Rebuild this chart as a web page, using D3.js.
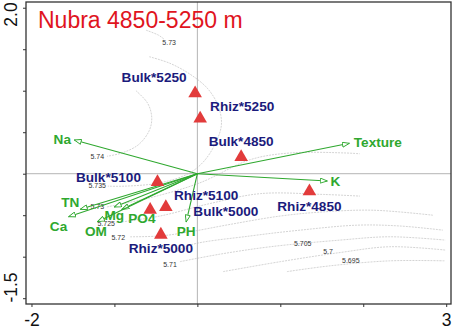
<!DOCTYPE html>
<html>
<head>
<meta charset="utf-8">
<script src="https://cdn.jsdelivr.net/npm/d3@7"></script>
<style>
  body { margin: 0; background: #fff; }
  text { font-family: "Liberation Sans", Arial, sans-serif; }
</style>
</head>
<body>
<div id="chart"></div>
<script>
// sample scores (site points)
var sampleNames = ["Bulk*5250", "Rhiz*5250", "Bulk*4850", "Rhiz*4850", "Bulk*5100", "Rhiz*5100", "Bulk*5000", "Rhiz*5000"];
var sampleX = [-0.027, 0.034, 0.528, 1.351, -0.481, -0.569, -0.380, -0.440];
var sampleY = [0.993, 0.687, 0.225, -0.188, -0.076, -0.410, -0.377, -0.711];

// environmental vectors
var varNames = ["Na", "Texture", "K", "Ca", "TN", "Mg", "PO4", "OM", "PH"];
var varX = [-1.484, 1.833, 1.567, -1.553, -1.412, -1.002, -0.910, -1.204, -0.135];
var varY = [0.406, 0.366, -0.088, -0.518, -0.429, -0.401, -0.429, -0.578, -0.582];

// contour lines of the fitted surface
var contourLevels = ["5.74", "5.735", "5.73", "5.73", "5.725", "5.72", "5.715", "5.71", "5.7", "5.695"];
var contourLines = [
  [[-0.74, 1.00], [-0.60, 0.85], [-0.55, 0.68], [-0.58, 0.52], [-0.71, 0.35], [-0.91, 0.25], [-1.09, 0.21]],
  [[-0.58, 1.41], [-0.33, 1.33], [-0.09, 1.20], [0.12, 1.03], [0.25, 0.82], [0.29, 0.59], [0.21, 0.35], [0.07, 0.14], [-0.11, 0.00], [-0.45, -0.11], [-0.87, -0.15], [-1.08, -0.15]],
  [[-0.62, 1.73], [-0.47, 1.67], [-0.40, 1.62]],
  [[-1.09, -0.40], [-0.57, -0.29], [0.03, -0.11], [0.64, 0.17], [1.12, 0.25], [1.78, 0.25], [1.96, 0.24]],
  [[-0.98, -0.59], [-0.45, -0.51], [0.15, -0.36], [0.76, -0.24], [1.52, -0.25], [1.96, -0.27]],
  [[-0.81, -0.76], [-0.45, -0.75], [-0.09, -0.70], [0.40, -0.61], [1.00, -0.51], [1.52, -0.46], [2.12, -0.44], [2.84, -0.50]],
  [[-0.27, -0.95], [-0.09, -0.86], [0.64, -0.75], [1.24, -0.68], [1.93, -0.62], [2.44, -0.63], [2.96, -0.68]],
  [[-0.21, -1.06], [0.27, -0.97], [0.88, -0.88], [1.72, -0.80], [2.32, -0.76], [2.99, -0.80]],
  [[0.31, -1.18], [1.00, -1.06], [1.72, -0.95], [2.32, -0.88], [2.99, -0.92]],
  [[1.08, -1.18], [1.60, -1.11], [2.32, -1.05], [2.99, -1.05]]
];
var contourLabelText = ["5.73", "5.74", "5.735", "5.73", "5.725", "5.72", "5.71", "5.705", "5.7", "5.695"];
var contourLabelX = [-0.34, -1.207, -1.207, -1.207, -1.099, -0.954, -0.33, 1.27, 1.576, 1.85];
var contourLabelY = [1.575, 0.213, -0.148, -0.401, -0.594, -0.763, -1.09, -0.835, -0.94, -1.04];

// axis ticks
var xTicks = [-2, -1, 0, 1, 2, 3];
var yTicks = [-1.5, -1, -0.5, 0, 0.5, 1, 1.5, 2];
var xTickLabels = ["-2", "", "", "", "", "3"];
var yTickLabels = ["-1.5", "", "", "", "", "", "", "2.0"];

// label nudges in pixels (layout only)
var sampleLabelDx = [-41, 42, 0, 0, -49, 56, 60, 0];
var sampleLabelDy = [-14, -10, -14, 17, -3, -12, 7, 16];
var varLabelDx = [-12, 28.5, 8, -10, -10, 0, 20, -1.5, 0];
var varLabelDy = [-1, -0.5, 0, 10, -7, 8.5, 9, 9.6, 9];

var W = 454, H = 329;
var pLeft = 26, pRight = 451, pTop = 2, pBottom = 304;

var svg = d3.select('#chart')
  .append('svg')
  .attr('width', W)
  .attr('height', H)
  .style('display', 'block');

var x = d3.scaleLinear().domain([-2.066, 3.058]).range([pLeft, pRight]);
var y = d3.scaleLinear().domain([-1.570, 2.069]).range([pBottom, pTop]);

var green = '#2fa82f';
var navy = '#1b1b7c';

// arrow marker (open head)
svg.append('defs').append('marker')
  .attr('id', 'head')
  .attr('viewBox', '0 0 8 6')
  .attr('refX', 7.5)
  .attr('refY', 3)
  .attr('markerWidth', 8)
  .attr('markerHeight', 6)
  .attr('markerUnits', 'userSpaceOnUse')
  .attr('orient', 'auto')
  .append('path')
  .attr('d', 'M0.5,0.5 L7.5,3 L0.5,5.5 Z')
  .attr('fill', '#fff')
  .attr('stroke', green)
  .attr('stroke-width', 0.9);

// contours
var line = d3.line()
  .x(d => x(d[0]))
  .y(d => y(d[1]))
  .curve(d3.curveCatmullRom);

svg.append('g')
  .selectAll('path')
  .data(contourLines)
  .join('path')
  .attr('d', line)
  .attr('fill', 'none')
  .attr('stroke', '#cfcfcf')
  .attr('stroke-width', 0.9)
  .attr('stroke-dasharray', '2,1');

svg.append('g')
  .selectAll('text')
  .data(contourLabelText)
  .join('text')
  .attr('x', (d, i) => x(contourLabelX[i]))
  .attr('y', (d, i) => y(contourLabelY[i]))
  .attr('text-anchor', 'middle')
  .attr('dominant-baseline', 'central')
  .style('font-size', '7px')
  .style('fill', '#333')
  .text(d => d);

// zero lines
svg.append('line')
  .attr('x1', pLeft).attr('x2', pRight)
  .attr('y1', y(0)).attr('y2', y(0))
  .attr('stroke', '#b4b4b4').attr('stroke-width', 1);
svg.append('line')
  .attr('x1', x(0)).attr('x2', x(0))
  .attr('y1', pTop).attr('y2', pBottom)
  .attr('stroke', '#b4b4b4').attr('stroke-width', 1);

// vectors
svg.append('g')
  .selectAll('line')
  .data(varNames)
  .join('line')
  .attr('x1', x(0))
  .attr('y1', y(0))
  .attr('x2', (d, i) => x(varX[i]))
  .attr('y2', (d, i) => y(varY[i]))
  .attr('stroke', green)
  .attr('stroke-width', 1.1)
  .attr('marker-end', 'url(#head)');

svg.append('g')
  .selectAll('text')
  .data(varNames)
  .join('text')
  .attr('x', (d, i) => x(varX[i]) + varLabelDx[i])
  .attr('y', (d, i) => y(varY[i]) + varLabelDy[i])
  .attr('text-anchor', 'middle')
  .attr('dominant-baseline', 'central')
  .style('font-size', '13.6px')
  .style('font-weight', 'bold')
  .style('fill', green)
  .text(d => d);

// sample points
var tri = d3.symbol(d3.symbolTriangle, 80);
svg.append('g')
  .selectAll('path')
  .data(sampleNames)
  .join('path')
  .attr('d', tri)
  .attr('transform', (d, i) => 'translate(' + x(sampleX[i]) + ',' + (y(sampleY[i]) + 2) + ')')
  .attr('fill', '#e23b3b');

svg.append('g')
  .selectAll('text')
  .data(sampleNames)
  .join('text')
  .attr('x', (d, i) => x(sampleX[i]) + sampleLabelDx[i])
  .attr('y', (d, i) => y(sampleY[i]) + sampleLabelDy[i])
  .attr('text-anchor', 'middle')
  .attr('dominant-baseline', 'central')
  .style('font-size', '13.6px')
  .style('font-weight', 'bold')
  .style('fill', navy)
  .text(d => d);

// axes
var xAxis = svg.append('g')
  .attr('transform', 'translate(0,' + pBottom + ')')
  .call(d3.axisBottom(x).tickValues(xTicks).tickSize(3).tickSizeOuter(0).tickFormat((d, i) => xTickLabels[i]));
var yAxis = svg.append('g')
  .attr('transform', 'translate(' + pLeft + ',0)')
  .call(d3.axisLeft(y).tickValues(yTicks).tickSize(3).tickSizeOuter(0).tickFormat(''));

[xAxis, yAxis].forEach(function(a) {
  a.select('.domain').remove();
  a.selectAll('.tick line').attr('stroke', '#333');
});
xAxis.selectAll('text')
  .attr('dy', null)
  .attr('y', 21.5)
  .style('font-size', '17.5px')
  .style('font-family', '"Liberation Sans", Arial, sans-serif')
  .style('fill', '#111');

// y tick labels, rotated, kept inside the frame
svg.append('g')
  .selectAll('text')
  .data(yTickLabels.filter(d => d !== ''))
  .join('text')
  .attr('transform', function(d) {
    var v = +d;
    var cy = Math.min(Math.max(y(v), pTop + 12.5), pBottom - 16.5);
    return 'translate(16.5,' + cy + ') rotate(-90)';
  })
  .attr('text-anchor', 'middle')
  .style('font-size', '17.5px')
  .style('fill', '#111')
  .text(d => d);

// frame
svg.append('rect')
  .attr('x', pLeft).attr('y', pTop)
  .attr('width', pRight - pLeft).attr('height', pBottom - pTop)
  .attr('fill', 'none')
  .attr('stroke', '#333')
  .attr('stroke-width', 1.3);

// title
svg.append('text')
  .attr('x', 38)
  .attr('y', 28.3)
  .style('font-size', '23px')
  .style('fill', '#e0141e')
  .text('Nubra 4850-5250 m');
</script>
</body>
</html>
